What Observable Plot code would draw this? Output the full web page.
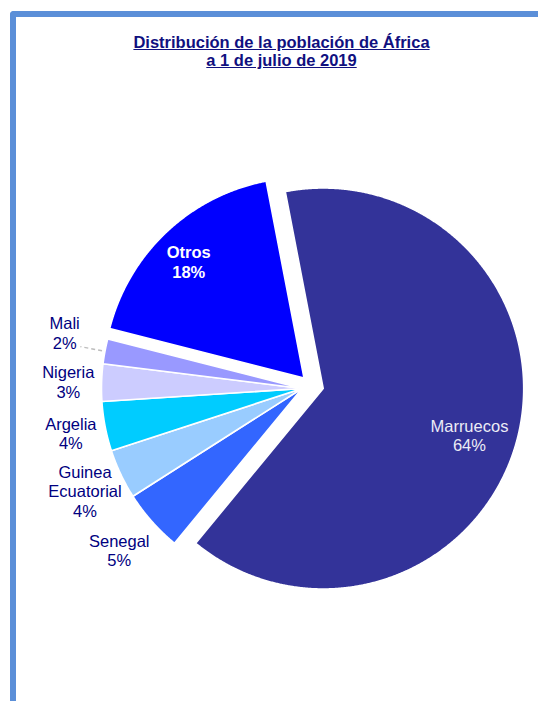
<!DOCTYPE html>
<html>
<head>
<meta charset="utf-8">
<script src="https://cdn.jsdelivr.net/npm/d3@7"></script>
<script src="https://cdn.jsdelivr.net/npm/@observablehq/plot@0.6"></script>
<style>
html,body{margin:0;padding:0;background:#fff;overflow:hidden;}
#wrap{position:relative;width:538px;height:701px;overflow:hidden;font-family:"Liberation Sans",Arial,sans-serif;}
#frame{position:absolute;left:10px;top:11px;width:640px;height:800px;border-left:6px solid #5b8fd8;border-top:6px solid #5b8fd8;border-top-left-radius:4px;box-sizing:border-box;}
#title{position:absolute;left:0;width:563px;top:33px;text-align:center;font-weight:bold;font-size:16.5px;line-height:18px;color:#10107f;text-decoration:underline;}
#chart{position:absolute;left:0;top:80px;}
</style>
</head>
<body>
<div id="wrap">
  <div id="frame"></div>
  <div id="title">Distribución de la población de África<br>a 1 de julio de 2019</div>
  <div id="chart"></div>
</div>
<script>
// ---- data ----
const countries = ["Marruecos", "Senegal", "Guinea\nEcuatorial", "Argelia", "Nigeria", "Mali", "Otros"];
const shares = [64, 5, 4, 4, 3, 2, 18];
const sliceColors = ["#333399", "#3366FF", "#99CCFF", "#00CCFF", "#CCCCFF", "#9999FF", "#0000FF"];

// ---- layout / styling ----
const R = 200.5;                     // pie radius (px units of the x/y scales)
const startDeg = -10.9;              // rotation of first slice
const explode = {Marruecos: [21.2, 0], Otros: [2, -10.5]};
const inside = new Set(["Marruecos", "Otros"]);
const labelPlace = {
  Marruecos: {r: 0.766, da: 3.5},
  Otros: {r: 0.816, da: -1.5},
  Senegal: {r: 1.217, da: 0},
  "Guinea\nEcuatorial": {r: 1.197, da: 0},
  Argelia: {r: 1.174, da: 0},
  Nigeria: {r: 1.166, da: 0},
  Mali: {r: 1.216, da: 2.5}
};
const defaultOuter = {r: 1.19, da: 0};
const leaderFor = new Set(["Mali"]);

const rad = Math.PI / 180;
const arcs = d3.pie().sort(null).value((d) => d.value)
  .startAngle(startDeg * rad).endAngle(startDeg * rad + 2 * Math.PI)(
    countries.map((name, i) => ({name, value: shares[i]}))
  );

const slicePts = [];
const labels = [];
const leaders = [];
for (const a of arcs) {
  const name = a.data.name;
  const [ox, oy] = explode[name] || [0, 0];
  slicePts.push({name, x: ox, y: oy});
  const steps = Math.max(4, Math.ceil((a.endAngle - a.startAngle) / (0.25 * rad)));
  for (let k = 0; k <= steps; k++) {
    const t = a.startAngle + (a.endAngle - a.startAngle) * k / steps;
    slicePts.push({name, x: ox + R * Math.sin(t), y: oy - R * Math.cos(t)});
  }
  slicePts.push({name, x: ox, y: oy});
  const mid = (a.startAngle + a.endAngle) / 2;
  const p = labelPlace[name] || defaultOuter;
  const m = mid + p.da * rad;
  labels.push({
    name,
    text: name + "\n" + a.data.value + "%",
    x: ox + p.r * R * Math.sin(m),
    y: oy - p.r * R * Math.cos(m),
    kind: name === "Otros" ? "bold" : inside.has(name) ? "inner" : "outer"
  });
  if (leaderFor.has(name)) {
    leaders.push({
      x1: ox + 1.015 * R * Math.sin(mid), y1: oy - 1.015 * R * Math.cos(mid),
      x2: ox + 1.125 * R * Math.sin(mid), y2: oy - 1.125 * R * Math.cos(mid)
    });
  }
}

const font = {fontFamily: "Liberation Sans, Arial, sans-serif", fontSize: 16.5, lineHeight: 1.18};

const chart = Plot.plot({
  width: 538,
  height: 621,
  margin: 0,
  x: {domain: [-301.5, 236.5], range: [0, 538], axis: null},
  y: {domain: [-308, 313], range: [0, 621], axis: null},
  color: {domain: countries, range: sliceColors},
  style: {background: "transparent", overflow: "visible"},
  marks: [
    Plot.line(slicePts, {
      x: "x", y: "y", z: "name", fill: "name",
      stroke: "white", strokeWidth: 1.6, strokeLinejoin: "round", curve: "linear"
    }),
    Plot.link(leaders, {
      x1: "x1", y1: "y1", x2: "x2", y2: "y2",
      stroke: "#bdbdbd", strokeWidth: 1.5, strokeDasharray: "4,3"
    }),
    Plot.text(labels.filter((d) => d.kind === "outer"), {
      x: "x", y: "y", text: "text", fill: "#000080", ...font
    }),
    Plot.text(labels.filter((d) => d.kind === "inner"), {
      x: "x", y: "y", text: "text", fill: "#ececf6", ...font
    }),
    Plot.text(labels.filter((d) => d.kind === "bold"), {
      x: "x", y: "y", text: "text", fill: "#ffffff", fontWeight: "bold", ...font
    })
  ]
});
document.getElementById("chart").appendChild(chart);
</script>
</body>
</html>
